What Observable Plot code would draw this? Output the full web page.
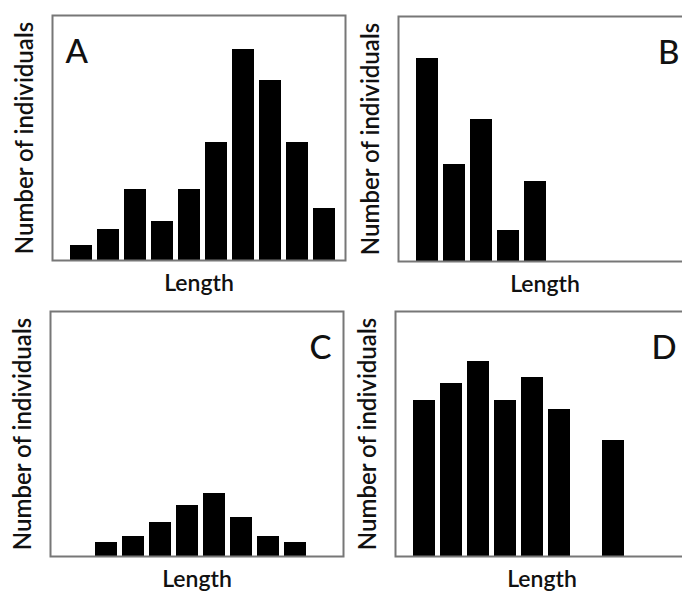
<!DOCTYPE html>
<html>
<head>
<meta charset="utf-8">
<script src="https://cdn.jsdelivr.net/npm/d3@7"></script>
<script src="https://cdn.jsdelivr.net/npm/@observablehq/plot@0.6"></script>
<style>
  html, body { margin: 0; padding: 0; background: #fff; overflow: hidden; }
  #wrap { position: relative; width: 682px; height: 598px; overflow: hidden; }
</style>
</head>
<body>
<div id="wrap"></div>
<script>
// Length bins (10 classes)
const bins = [1, 2, 3, 4, 5, 6, 7, 8, 9, 10];
// Number of individuals per length bin (arbitrary units)
const countsA = [1.5, 3.1, 7.1, 3.9, 7.1, 11.8, 21.1, 18.0, 11.8, 5.2];
const countsB = [20.3, 9.7, 14.2, 3.1, 8.0, 0, 0, 0, 0, 0];
const countsC = [0, 1.4, 2.0, 3.4, 5.1, 6.3, 3.9, 2.0, 1.4, 0];
const countsD = [15.6, 17.3, 19.5, 15.6, 17.9, 14.7, 0, 11.6, 0, 0];
const panelLetters = ["A", "B", "C", "D"];
const yLabel = "Number of individuals";
const xLabel = "Length";
const yMax = 24.5;

const FONT = "Lato, 'Open Sans', sans-serif";

function panel(letter, counts, side) {
  const data = bins.map((b, i) => ({bin: b, count: counts[i]}));
  return Plot.plot({
    width: 350, height: 300,
    marginLeft: 52, marginRight: 5, marginTop: 15, marginBottom: 40,
    style: {fontFamily: FONT, background: "transparent", color: "#111"},
    x: {type: "band", domain: bins, paddingInner: 0.2, paddingOuter: 0, insetLeft: 16, insetRight: 8, axis: null},
    y: {domain: [0, yMax], axis: null},
    marks: [
      Plot.barY(data, {x: "bin", y: "count", fill: "black"}),
      Plot.frame({stroke: "#777", strokeWidth: 2}),
      Plot.text([letter], {
        frameAnchor: side === "left" ? "top-left" : "top-right",
        textAnchor: side === "left" ? "start" : "end",
        lineAnchor: "top",
        dx: side === "left" ? 13 : -12, dy: 24,
        fontSize: 33, fontWeight: 500, fill: "#111"
      }),
      Plot.text([yLabel], {frameAnchor: "left", textAnchor: "middle", rotate: -90, dx: -27, fontSize: 24, fontWeight: 600, fill: "#111"}),
      Plot.text([xLabel], {frameAnchor: "bottom", textAnchor: "middle", dy: 30, fontSize: 23, fontWeight: 600, fill: "#111"})
    ]
  });
}

const layout = [
  {letter: panelLetters[0], counts: countsA, side: "left",  left: 0,   top: 0},
  {letter: panelLetters[1], counts: countsB, side: "right", left: 346, top: 1},
  {letter: panelLetters[2], counts: countsC, side: "right", left: -2,  top: 296},
  {letter: panelLetters[3], counts: countsD, side: "right", left: 343, top: 296}
];

const wrap = document.getElementById("wrap");
for (const p of layout) {
  const el = panel(p.letter, p.counts, p.side);
  el.style.position = "absolute";
  el.style.left = p.left + "px";
  el.style.top = p.top + "px";
  wrap.appendChild(el);
}
</script>
</body>
</html>
